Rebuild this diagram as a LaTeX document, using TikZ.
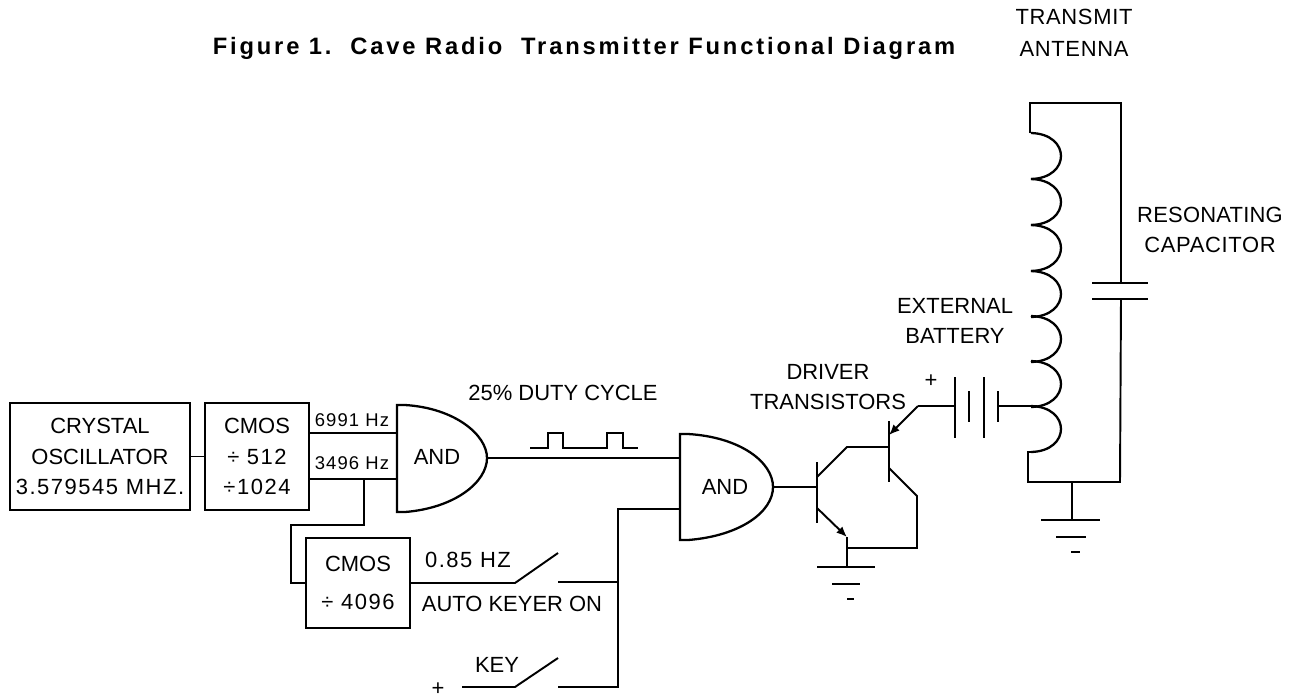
\documentclass[tikz,border=0pt]{standalone}
\usepackage{fontspec}
\usetikzlibrary{arrows.meta}
\setmainfont{Liberation Sans}
\newfontfamily\smallplotfont[LetterSpace=6]{Liberation Sans}
\newfontfamily\headfont[LetterSpace=12]{Liberation Sans Bold}
\newcommand{\wider}[2]{{\addfontfeature{LetterSpace=#1}#2}}
\tikzset{
  wire/.style={line width=1.1pt},
  plate/.style={line width=1.3pt},
  emitter/.style={wire,-{Latex[length=6pt,width=5pt]}},
  blockbox/.style={draw,line width=1.4pt,inner sep=0pt,align=center,font=\fontsize{12.5}{17.2}\selectfont},
  label/.style={inner sep=0pt,align=center,font=\fontsize{12.5}{17.2}\selectfont},
  freqlabel/.style={inner sep=0pt,font=\smallplotfont\fontsize{10.5}{12}\selectfont},
  headlabel/.style={inner sep=0pt,font=\headfont\fontsize{13.5}{15}\selectfont},
}
\begin{document}
\begin{tikzpicture}[x=0.02cm,y=-0.02cm]
    \useasboundingbox (0,0) rectangle (1296,698);
    % heading and antenna label
    \node[headlabel] (heading) at (584,48) {Figure 1.\ \ Cave Radio\ \ Transmitter Functional Diagram};
    \node[label] (antennalabel) at (1074,33) {\wider{3}{TRANSMIT}\\[1pt]\wider{3}{ANTENNA}};
    % blocks
    \node[blockbox,minimum width=3.6cm,minimum height=2.14cm] (crystal) at (100,456.5) {CRYSTAL\\OSCILLATOR\\\wider{7}{3.579545 MHZ.}};
    \node[blockbox,minimum width=2.08cm,minimum height=2.14cm] (cmosa) at (257,456.5) {CMOS\\\wider{7}{÷ 512}\\\wider{7}{÷1024}};
    \node[blockbox,minimum width=2.08cm,minimum height=1.8cm] (cmosb) at (358,583) {CMOS\\[4pt]\wider{7}{÷ 4096}};
    \draw[wire] (crystal.east) -- (cmosa.west);
    % first gate
    \draw[plate] (397,405) -- (405,405) .. controls (455,408) and (487,435) .. (487,458)
      .. controls (487,482) and (455,508) .. (405,512) -- (397,512) -- cycle;
    \node[label] (anda) at (437,457) {AND};
    \coordinate (andaup) at (397,433);
    \coordinate (andalow) at (397,479);
    \coordinate (andaout) at (487,458);
    \node[freqlabel] (fhigh) at (352,420) {6991 Hz};
    \node[freqlabel] (flow) at (352,463) {3496 Hz};
    \draw[wire] (andaup -| cmosa.east) -- (andaup);
    \draw[wire] (andalow -| cmosa.east) -- (andalow);
    % second divider feed
    \coordinate (tap) at (364,479);
    \draw[wire] (tap) -- (364,525) -- (291,525) -- (291,583) -- (cmosb.west);
    % second gate
    \draw[plate] (680,434) -- (688,434) .. controls (740,437) and (773,462) .. (773,487)
      .. controls (773,512) and (740,536) .. (688,540) -- (680,540) -- cycle;
    \node[label] (andb) at (725,487) {AND};
    \coordinate (andbup) at (680,457);
    \coordinate (andblow) at (680,509);
    \coordinate (andbout) at (773,487);
    \draw[wire] (andaout) -- (andaout -| andbup);
    \node[label] (dutylabel) at (563,393) {25\% DUTY CYCLE};
    \draw[wire] (530,448) -- (548,448) -- (548,433) -- (563,433) -- (563,448) -- (607,448)
      -- (607,433) -- (623,433) -- (623,448) -- (638,448);% pulses
    % switches
    \coordinate (joinb) at (618,509);
    \coordinate (swaout) at (558,582);
    \coordinate (swbout) at (558,687);
    \coordinate (swbin) at (462,687);
    \draw[wire] (andblow) -- (joinb) -- (swbout -| joinb) -- (swbout);
    \draw[wire] (swaout -| joinb) -- (swaout);
    \draw[wire] (cmosb.east) -- (515,583) -- (558,553);% auto keyer arm
    \draw[wire] (swbin) -- (515,687) -- (558,658);% key arm
    \node[label] (ratelabel) at (468,560) {\wider{7}{0.85 HZ}};
    \node[label] (keyerlabel) at (512,604) {AUTO KEYER ON};
    \node[label] (keylabel) at (497,665) {KEY};
    \node[label] (keyplus) at (438,689) {+};
    % driver transistors
    \node[label] (driverlabel) at (828,387) {DRIVER\\TRANSISTORS};
    \coordinate (qab) at (817,487);
    \coordinate (qbb) at (889,447);
    \coordinate (qae) at (847,537);
    \coordinate (qgnd) at (847,567);
    \coordinate (qjoin) at (847,548);
    \coordinate (qbe) at (918,406);
    \draw[plate] (817,462) -- (817,523);% lower bar
    \draw[plate] (889,421) -- (889,482);% upper bar
    \draw[wire] (andbout) -- (qab);
    \draw[wire] (817,477) -- (847,447) -- (qbb);
    \draw[emitter] (817,508) -- (qae);
    \draw[wire] (qae) -- (qgnd);
    \draw[wire] (qjoin) -- (917,548) -- (917,496) -- (889,468);
    \draw[emitter] (qbe) -- (889,435);
    % battery
    \node[label] (batterylabel) at (955,321) {EXTERNAL\\BATTERY};
    \node[label] (batteryplus) at (931,381) {+};
    \coordinate (batin) at (955,406);
    \coordinate (batout) at (998,406);
    \draw[plate] (955,377) -- (955,438);
    \draw[plate] (969,391) -- (969,422);
    \draw[plate] (984,377) -- (984,438);
    \draw[plate] (998,391) -- (998,422);
    \draw[wire] (qbe) -- (batin);
    \draw[wire] (batout) -- (1037,406);
    % antenna coil and capacitor
    \foreach \cy in {133,179,225,271,316,361,406}
      \draw[plate] (1031,\cy) .. controls (1071,\cy+1) and (1071,\cy+45) .. (1031,\cy+46);
    \coordinate (captop) at (1121,283);
    \coordinate (capbot) at (1121,299);
    \coordinate (gndtop) at (1072,482);
    \draw[wire] (1030,133) -- (1030,103) -- (1121,103) -- (captop);
    \draw[plate] (1092,283) -- (1148,283);
    \draw[plate] (1092,299) -- (1148,299);
    \draw[wire] (capbot) -- (1120,482) -- (1028,482) -- (1028,452) -- (1031,452);
    \node[label] (caplabel) at (1210,230) {\wider{1}{RESONATING}\\\wider{3}{CAPACITOR}};
    % grounds
    \draw[wire] (gndtop) -- (1072,520);
    \draw[plate] (1041,520) -- (1100,520);
    \draw[plate] (1056,537) -- (1086,537);
    \draw[plate] (1071,552) -- (1080,552);
    \draw[plate] (817,567) -- (875,567);
    \draw[plate] (832,584) -- (860,584);
    \draw[plate] (847,599) -- (854,599);
\end{tikzpicture}
\end{document}
